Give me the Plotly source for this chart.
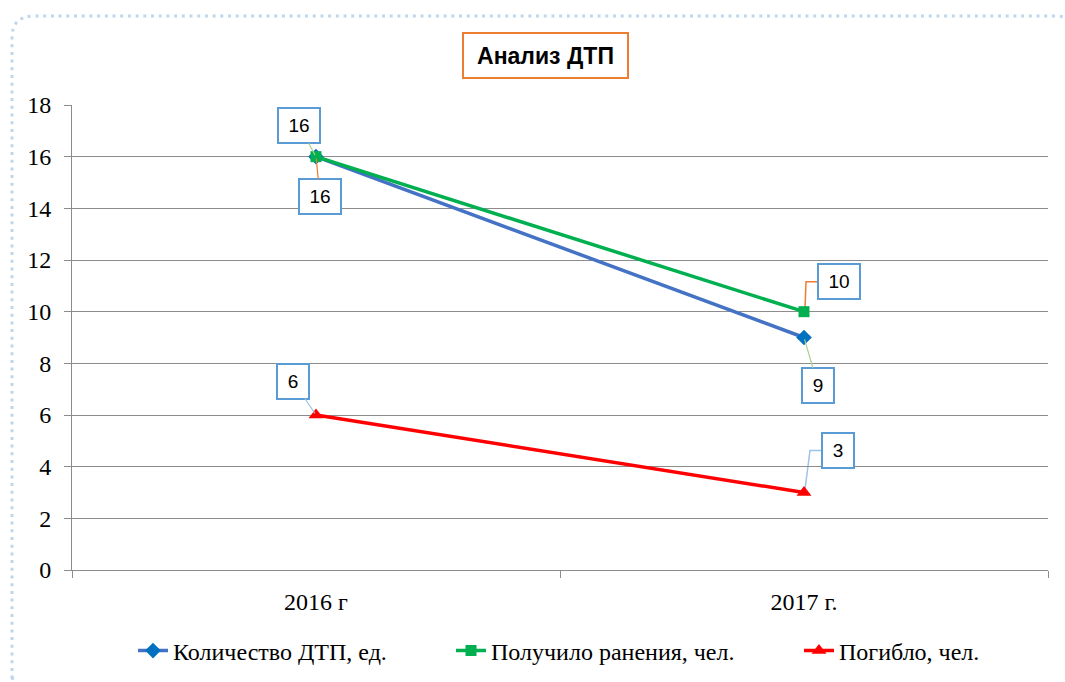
import plotly.graph_objects as go

# ---- data ----
categories = ["2016 г", "2017 г."]
dtp_count = [16, 9]          # Количество ДТП, ед.
injured = [16, 10]           # Получило ранения, чел.
killed = [6, 3]              # Погибло, чел.
series_names = ["Количество ДТП, ед.", "Получило ранения, чел.", "Погибло, чел."]
y_ticks = [0, 2, 4, 6, 8, 10, 12, 14, 16, 18]
title_text = "Анализ ДТП"

# ---- layout geometry ----
W, H = 1065, 682
L, R, T, B = 72, 17, 105, 112
PW, PH = W - L - R, H - T - B


def px2paper(px, py):
    return (px - L) / PW, (H - B - py) / PH


SERIF = "Liberation Serif, Times New Roman, serif"
SANS = "Liberation Sans, Arial, sans-serif"

fig = go.Figure()
fig.add_trace(go.Scatter(x=categories, y=dtp_count, name=series_names[0], mode="lines+markers",
                         line=dict(color="#4472c4", width=3.5),
                         marker=dict(symbol="diamond", size=12, color="#0070c0"), legend="legend"))
fig.add_trace(go.Scatter(x=categories, y=injured, name=series_names[1], mode="lines+markers",
                         line=dict(color="#00b050", width=3.5),
                         marker=dict(symbol="square", size=11, color="#00b050"), legend="legend"))
fig.add_trace(go.Scatter(x=categories, y=killed, name=series_names[2], mode="lines+markers",
                         line=dict(color="#ff0000", width=3.5),
                         marker=dict(symbol="triangle-up", size=13, color="#ff0000"), legend="legend2"))

annotations = []
shapes = []

LBL_BORDER = "#5b9bd5"
label_specs = [
    # (category idx, values list, ax, ay, leader color, straight arrow?)
    (0, dtp_count, -17, -31, "#a9d18e", True),
    (0, injured, 4, 40, "#ed7d31", True),
    (1, dtp_count, 14, 48, "#a9d18e", True),
    (1, injured, 35, -30, "#ed7d31", False),
    (0, killed, -23, -34, "#9dc3e6", True),
    (1, killed, 34, -42, "#9dc3e6", False),
]
for ci, vals, ax, ay, lc, arrow in label_specs:
    v = vals[ci]
    txt = str(v)
    w = 40 if len(txt) > 1 else 30
    a = dict(x=categories[ci], y=v, xref="x", yref="y", text=txt,
             font=dict(family=SANS, size=19, color="#000000"),
             bgcolor="#ffffff", bordercolor=LBL_BORDER, borderwidth=2, borderpad=0,
             width=w, height=33)
    if arrow:
        a.update(showarrow=True, ax=ax, ay=ay, arrowhead=0, arrowwidth=1.2, arrowcolor=lc, standoff=2)
    else:
        a.update(showarrow=False, xshift=ax, yshift=-ay)
        left = ax - w / 2 - 1
        shapes.append(dict(type="path", xref="x", yref="y", xsizemode="pixel", ysizemode="pixel",
                           xanchor=categories[ci], yanchor=v,
                           path=f"M{left},{-ay} L{left - 12},{-ay} L1,3",
                           line=dict(color=lc, width=1.5), layer="below"))
    annotations.append(a)

# title
tx, ty = px2paper(545, 56)
annotations.append(dict(x=tx, y=ty, xref="paper", yref="paper", text="<b>" + title_text + "</b>",
                        showarrow=False, font=dict(family=SANS, size=23, color="#000000"),
                        bgcolor="#ffffff", bordercolor="#ed7d31", borderwidth=2, borderpad=0,
                        width=163, height=43, xanchor="center", yanchor="middle"))


# dotted rounded outer border
def P(px, py):
    x, y = px2paper(px, py)
    return f"{x:.5f},{y:.5f}"


border_path = (f"M{P(12, 694)} L{P(12, 38)} Q{P(12, 16)} {P(34, 16)} L{P(1056, 16)} "
               f"Q{P(1076, 16)} {P(1076, 36)} L{P(1076, 672)} Q{P(1076, 694)} {P(1054, 694)} "
               f"L{P(34, 694)} Q{P(12, 694)} {P(12, 672)}")
shapes.append(dict(type="path", xref="paper", yref="paper", path=border_path,
                   line=dict(color="#bdd7ee", width=3, dash="3px,4.7px"), layer="below"))

ly = (H - 651) / H
legend_common = dict(orientation="h", xref="container", yref="container", y=ly,
                     xanchor="left", yanchor="middle", bgcolor="rgba(0,0,0,0)",
                     font=dict(family=SERIF, size=24, color="#000000"), itemclick=False)
fig.update_layout(
    width=W, height=H,
    margin=dict(l=L, r=R, t=T, b=B, pad=0),
    paper_bgcolor="#ffffff", plot_bgcolor="#ffffff",
    showlegend=True,
    legend=dict(legend_common, x=133 / W, entrywidth=273, entrywidthmode="pixels"),
    legend2=dict(legend_common, x=799 / W),
    xaxis=dict(type="category", range=[-0.5, 1.5], showgrid=False, showline=True,
               linecolor="#8c8c8c", linewidth=1, ticks="outside", tickson="boundaries",
               ticklen=7, tickcolor="#8c8c8c", tickfont=dict(family=SERIF, size=24, color="#000000"),
               ticklabelstandoff=10, fixedrange=True),
    yaxis=dict(range=[0, 18], tickvals=y_ticks, showgrid=True, gridcolor="#8c8c8c", gridwidth=1,
               showline=True, linecolor="#8c8c8c", linewidth=1, ticks="outside", ticklen=7,
               tickcolor="#8c8c8c", tickfont=dict(family=SERIF, size=24, color="#000000"),
               ticklabelstandoff=8, zeroline=False, fixedrange=True),
    annotations=annotations,
    shapes=shapes,
)

fig.write_html("out.html", config={"displayModeBar": False},
               post_script="document.body.style.margin='0';")
